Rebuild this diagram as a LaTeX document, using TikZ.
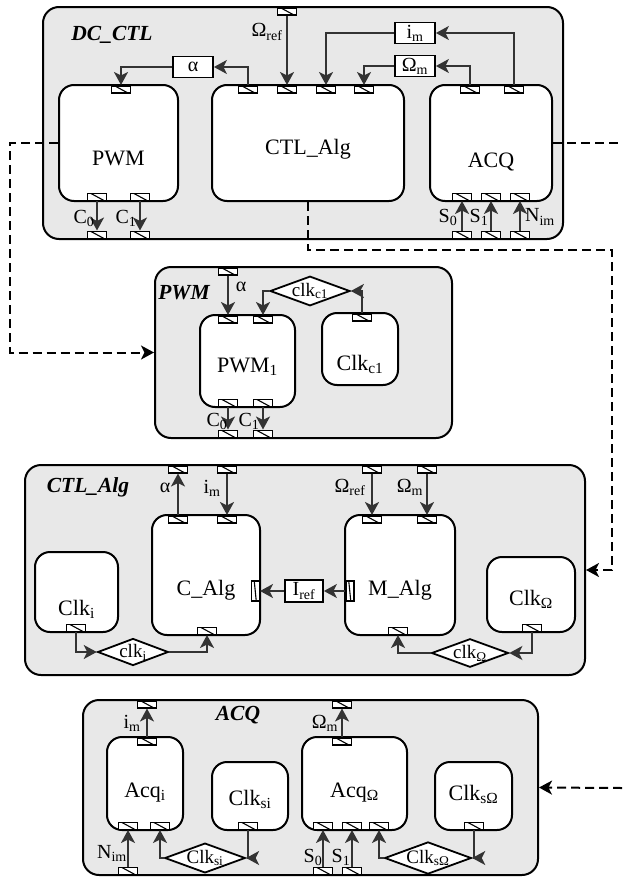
\documentclass[tikz,border=0pt]{standalone}
\usepackage{fontspec}
\setmainfont{Liberation Serif}
\usetikzlibrary{shapes.geometric, arrows.meta, positioning}

\begin{document}
\begin{tikzpicture}[
  x=1pt, y=-1pt,
  outer/.style = {rectangle, rounded corners=16pt, draw, line width=2pt, fill=black!9, inner sep=0pt},
  blk/.style   = {rectangle, rounded corners=15pt, draw, line width=2pt, fill=white,
                  font=\fontsize{22}{24}\selectfont, text depth=0pt, text height=#1},
  blk/.default = 15pt,
  tag/.style   = {font=\fontsize{21.5}{24}\selectfont\bfseries\itshape, inner sep=0pt},
  sig/.style   = {rectangle, draw, line width=1.8pt, fill=white, minimum width=40pt, minimum height=21pt,
                  inner sep=0pt, font=\fontsize{20}{22}\selectfont},
  lbl/.style   = {font=\fontsize{20}{22}\selectfont, inner sep=0pt},
  clk/.style   = {diamond, aspect=2.7, draw, line width=1.8pt, fill=white, inner sep=0pt,
                  font=\fontsize{19}{21}\selectfont},
  port/.style  = {rectangle, draw, line width=1.5pt, fill=white, minimum width=19pt, minimum height=7pt,
                  inner sep=0pt,
                  path picture={\draw[line width=1.1pt] ([xshift=3pt]path picture bounding box.north west)
                                -- ([xshift=-3pt]path picture bounding box.south east);}},
  vport/.style = {port, minimum width=8pt, minimum height=20pt},
  arr/.style   = {-{Stealth[length=13pt, width=14pt, inset=3.5pt]}, line width=2pt, color=black!80},
  dsh/.style   = {arr, color=black, dash pattern=on 9pt off 5pt},
]
\useasboundingbox (0,0) rectangle (622,878);

%% --- DC_CTL (top level) ---
\node[outer, minimum width=520pt, minimum height=232pt] (dcctl) at (303,123) {};
\node[tag] (dcctlTag) at (112,35) {DC\_CTL};
\node[blk=45pt, minimum width=119pt, minimum height=116pt] (pwm)    at (118.5,143) {PWM};
\node[blk=23pt, minimum width=192pt, minimum height=116pt] (ctlalg) at (308,143)   {CTL\_Alg};
\node[blk=49pt, minimum width=122pt, minimum height=116pt] (acq)    at (491,143)   {ACQ};
\node[sig] (alpha) at (193,67) {α};
\node[sig] (im)    at (415,33) {i\textsubscript{m}};
\node[sig] (om)    at (415,66) {Ω\textsubscript{m}};

%% ports
\node[port, anchor=north] (dcRef) at (287,7) {};
\node[port, anchor=north] (pwmA)  at (121,85) {};
\foreach \n/\x in {algA/248, algRef/287, algI/326, algO/364, acqPO/470, acqPI/514}
  \node[port, anchor=north] (\n) at (\x,85) {};
\foreach \n/\x in {pwmC0/97, pwmC1/140, acqS0/462, acqS1/491, acqN/520}
  \node[port, anchor=south] (\n) at (\x,201) {};
\foreach \n/\x in {dcC0/97, dcC1/140, dcS0/462, dcS1/491, dcN/520}
  \node[port, anchor=south] (\n) at (\x,239) {};

%% signals
\draw[arr] (algA.north) |- (alpha.east);
\draw[arr] (alpha.west) -| (pwmA.north);
\draw[arr] (dcRef.south) -- (algRef.north);
\draw[arr] (acqPI.north) |- (im.east);
\draw[arr] (im.west) -| (algI.north);
\draw[arr] (acqPO.north) |- (om.east);
\draw[arr] (om.west) -| (algO.north);
\foreach \a/\b in {pwmC0/dcC0, pwmC1/dcC1}
  \draw[arr] (\a.south) -- (\b.north);
\foreach \a/\b in {dcS0/acqS0, dcS1/acqS1, dcN/acqN}
  \draw[arr] (\a.north) -- (\b.south);

\node[lbl] (dcRefLbl) at (267,32)  {Ω\textsubscript{ref}};
\node[lbl] (dcC0Lbl)  at (84,218)  {C\textsubscript{0}};
\node[lbl] (dcC1Lbl)  at (126,218) {C\textsubscript{1}};
\node[lbl] (dcS0Lbl)  at (448,217) {S\textsubscript{0}};
\node[lbl] (dcS1Lbl)  at (479,217) {S\textsubscript{1}};
\node[lbl] (dcNLbl)   at (540,217) {N\textsubscript{im}};

%% --- PWM ---
\node[outer, minimum width=297pt, minimum height=171pt] (pwmBlk) at (303.5,352.5) {};
\node[tag] (pwmTag) at (184,293) {PWM};
\node[blk=23pt, minimum width=95pt, minimum height=92pt] (pwm1)  at (247.5,361) {PWM\textsubscript{1}};
\node[blk=43pt, minimum width=76pt, minimum height=72pt] (clkc1) at (360,349)   {Clk\textsubscript{c1}};
\node[clk, minimum width=66pt, minimum height=25pt] (ckc1) at (310,291) {clk\textsubscript{c1}};

\node[port, anchor=north] (pwmBlkA) at (228,267) {};
\node[port, anchor=north] (pwm1A)   at (228,315) {};
\node[port, anchor=north] (pwm1K)   at (263,315) {};
\node[port, anchor=north] (clkc1P)  at (362,313) {};
\foreach \n/\x in {pwm1C0/228, pwm1C1/263}
  \node[port, anchor=south] (\n) at (\x,407) {};
\foreach \n/\x in {pwmBlkC0/228, pwmBlkC1/263}
  \node[port, anchor=south] (\n) at (\x,438) {};

\draw[arr] (pwmBlkA.south) -- (pwm1A.north);
\draw[arr] (clkc1P.north) |- (ckc1.east);
\draw[arr] (ckc1.west) -| (pwm1K.north);
\foreach \a/\b in {pwm1C0/pwmBlkC0, pwm1C1/pwmBlkC1}
  \draw[arr] (\a.south) -- (\b.north);

\node[lbl] (pwmALbl)  at (241,287) {α};
\node[lbl] (pwmC0Lbl) at (217,421) {C\textsubscript{0}};
\node[lbl] (pwmC1Lbl) at (249,421) {C\textsubscript{1}};

%% --- CTL_Alg ---
\node[outer, minimum width=560pt, minimum height=210pt] (algBlk) at (305,570) {};
\node[tag] (algTag) at (88,487) {CTL\_Alg};
\node[blk=41pt, minimum width=108pt, minimum height=120pt] (calg) at (206,575)   {C\_Alg};
\node[blk=41pt, minimum width=110pt, minimum height=120pt] (malg) at (400,575)   {M\_Alg};
\node[blk=47pt, minimum width=83pt,  minimum height=80pt]  (clki) at (76.5,592)  {Clk\textsubscript{i}};
\node[blk=21pt, minimum width=88pt,  minimum height=75pt]  (clkO) at (531,594.5) {Clk\textsubscript{Ω}};
\node[sig, minimum width=38pt, minimum height=22pt] (iref) at (304,591) {I\textsubscript{ref}};
\node[clk, minimum width=57pt, minimum height=27pt] (cki) at (133,652) {clk\textsubscript{i}};
\node[clk, minimum width=56pt, minimum height=25pt] (ckO) at (470,653) {clk\textsubscript{Ω}};

\foreach \n/\x in {algBlkA/178, algBlkI/227, algBlkR/372, algBlkO/427}
  \node[port, anchor=north] (\n) at (\x,465) {};
\foreach \n/\x in {calgA/178, calgI/227, malgR/372, malgO/427}
  \node[port, anchor=north] (\n) at (\x,515) {};
\node[vport, anchor=east]  (calgJ) at (260,591) {};
\node[vport, anchor=west]  (malgJ) at (345,591) {};
\node[port, anchor=south] (clkiP) at (76,632)  {};
\node[port, anchor=south] (calgK) at (207,635) {};
\node[port, anchor=south] (malgK) at (398,635) {};
\node[port, anchor=south] (clkOP) at (532,632) {};

\draw[arr] (calgA.north) -- (algBlkA.south);
\foreach \a/\b in {algBlkI/calgI, algBlkR/malgR, algBlkO/malgO}
  \draw[arr] (\a.south) -- (\b.north);
\draw[arr] (malgJ.west) -- (iref.east);
\draw[arr] (iref.west) -- (calgJ.east);
\draw[arr] (clkiP.south) |- (cki.west);
\draw[arr] (cki.east) -| (calgK.south);
\draw[arr] (clkOP.south) |- (ckO.east);
\draw[arr] (ckO.west) -| (malgK.south);

\node[lbl] (algALbl) at (165,488) {α};
\node[lbl] (algILbl) at (212,488) {i\textsubscript{m}};
\node[lbl] (algRLbl) at (350,487) {Ω\textsubscript{ref}};
\node[lbl] (algOLbl) at (410,487) {Ω\textsubscript{m}};

%% --- ACQ ---
\node[outer, minimum width=455pt, minimum height=175pt] (acqBlk) at (310.5,787.5) {};
\node[tag] (acqTag) at (238,715) {ACQ};
\node[blk=27pt, minimum width=76pt,  minimum height=93pt] (acqi)  at (145,783.5)   {Acq\textsubscript{i}};
\node[blk=19pt, minimum width=76pt,  minimum height=68pt] (clksi) at (250,796)     {Clk\textsubscript{si}};
\node[blk=27pt, minimum width=105pt, minimum height=93pt] (acqO)  at (354.5,783.5) {Acq\textsubscript{Ω}};
\node[blk=9pt,  minimum width=77pt,  minimum height=68pt] (clksO) at (473.5,796)   {Clk\textsubscript{sΩ}};
\node[clk, minimum width=74pt, minimum height=27pt] (cksi) at (205,858) {Clk\textsubscript{si}};
\node[clk, minimum width=73pt, minimum height=27pt] (cksO) at (428,858) {Clk\textsubscript{sΩ}};

\node[port, anchor=north] (acqBlkI) at (147,700) {};
\node[port, anchor=north] (acqBlkO) at (342,700) {};
\node[port, anchor=north] (acqiT)   at (147,737) {};
\node[port, anchor=north] (acqOT)   at (342,737) {};
\foreach \n/\x in {acqiN/128, acqiK/160, clksiP/248, acqOS0/323, acqOS1/352, acqOK/379, clksOP/474}
  \node[port, anchor=south] (\n) at (\x,830) {};
\foreach \n/\x in {acqBlkN/128, acqBlkS0/323, acqBlkS1/352}
  \node[port, anchor=south] (\n) at (\x,875) {};

\draw[arr] (acqiT.north) -- (acqBlkI.south);
\draw[arr] (acqOT.north) -- (acqBlkO.south);
\foreach \a/\b in {acqBlkN/acqiN, acqBlkS0/acqOS0, acqBlkS1/acqOS1}
  \draw[arr] (\a.north) -- (\b.south);
\draw[arr] (clksiP.south) |- (cksi.east);
\draw[arr] (cksi.west) -| (acqiK.south);
\draw[arr] (clksOP.south) |- (cksO.east);
\draw[arr] (cksO.west) -| (acqOK.south);

\node[lbl] (acqILbl)  at (132,723) {i\textsubscript{m}};
\node[lbl] (acqOLbl)  at (325,723) {Ω\textsubscript{m}};
\node[lbl] (acqNLbl)  at (112,853) {N\textsubscript{im}};
\node[lbl] (acqS0Lbl) at (313,857) {S\textsubscript{0}};
\node[lbl] (acqS1Lbl) at (341,857) {S\textsubscript{1}};

%% --- Refinement links ---
\coordinate (acqOut) at (622,143);
\coordinate (acqIn)  at (622,788);
\draw[dsh] (pwm.west) -- (10,143) |- (pwmBlk.west);
\draw[dsh] (ctlalg.south) |- (612,250) |- (algBlk.east);
\draw[dsh, -] (acq.east) -- (acqOut);
\draw[dsh] (acqIn) -- (acqBlk.east);

\end{tikzpicture}
\end{document}
